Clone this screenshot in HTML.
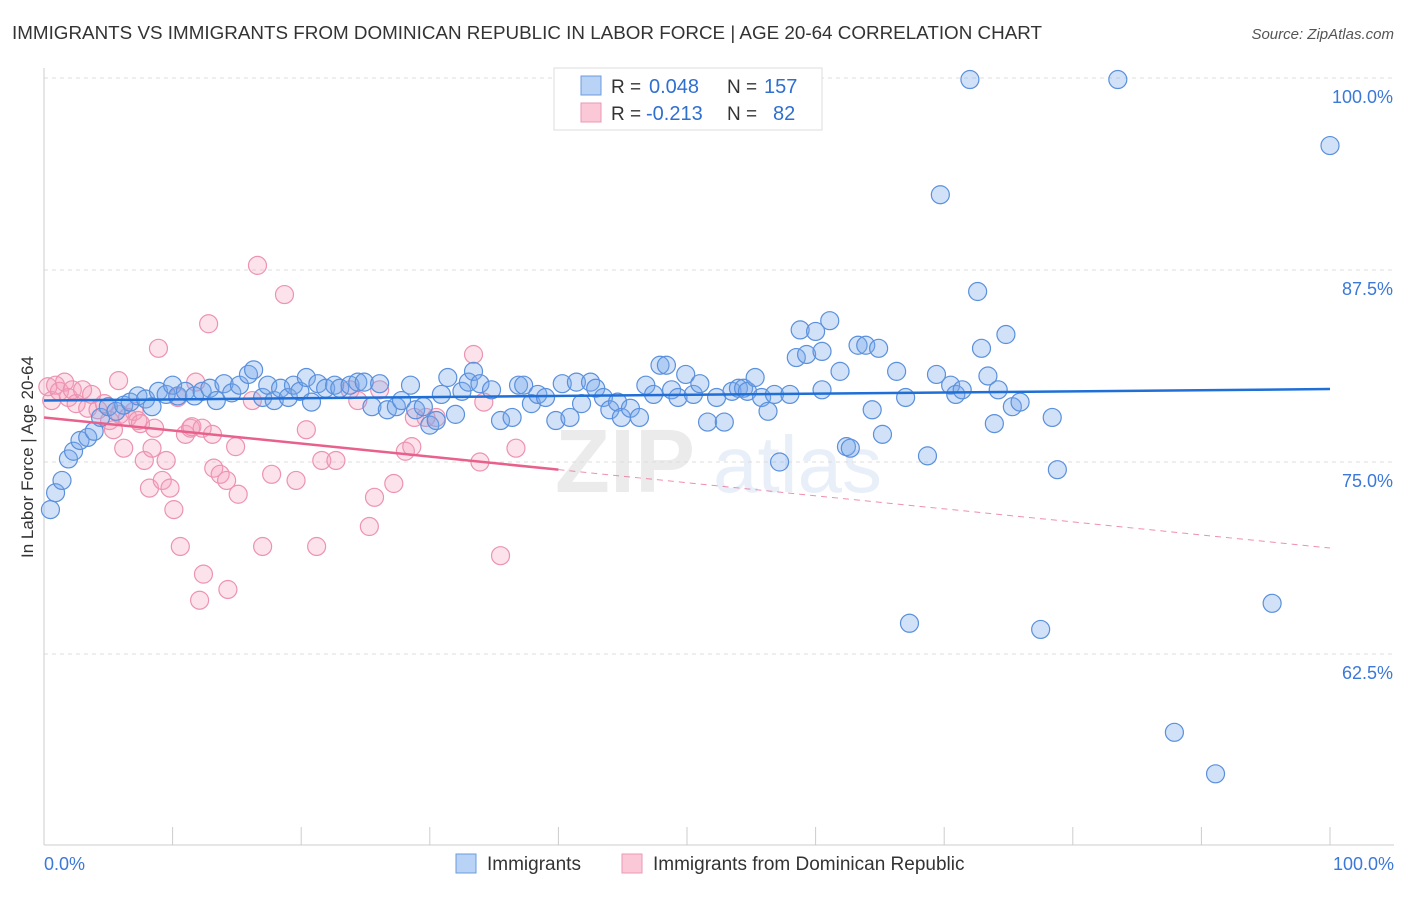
<!DOCTYPE html>
<html><head><meta charset="utf-8"><style>
body{margin:0;background:#fff;font-family:"Liberation Sans",sans-serif;}
svg text{font-family:"Liberation Sans",sans-serif;}
</style></head><body>
<svg id="chart" width="1406" height="892" viewBox="0 0 1406 892">
<text x="12" y="39" font-size="18" fill="#333" textLength="1030" lengthAdjust="spacingAndGlyphs">IMMIGRANTS VS IMMIGRANTS FROM DOMINICAN REPUBLIC IN LABOR FORCE | AGE 20-64 CORRELATION CHART</text>
<text x="1394" y="39" font-size="15" fill="#555" text-anchor="end" font-style="italic">Source: ZipAtlas.com</text>
<text transform="translate(33,457) rotate(-90)" font-size="17" fill="#333" text-anchor="middle">In Labor Force | Age 20-64</text>
<g opacity="0.12">
<text x="555" y="492" font-size="90" font-family="Liberation Serif" fill="#666" font-weight="bold">ZIP</text>
<text x="713" y="492" font-size="80" fill="#4a7fd0">atlas</text>
</g>
<g id="grid"></g>
<g id="axes"></g>
<g id="pink"></g>
<g id="blue"></g>
<g id="trends"></g>
<g>
<rect x="554" y="68" width="268" height="62" fill="#fff" stroke="#ddd"/>
<rect x="581" y="76" width="20" height="19" fill="#b8d3f5" stroke="#6a9be0"/>
<rect x="581" y="103" width="20" height="19" fill="#fbc8d7" stroke="#e99ab3"/>
<text x="611" y="93" font-size="19" fill="#333">R =</text>
<text x="649" y="93" font-size="20" fill="#2f6fd0">0.048</text>
<text x="727" y="93" font-size="19" fill="#333">N =</text>
<text x="764" y="93" font-size="20" fill="#2f6fd0">157</text>
<text x="611" y="120" font-size="19" fill="#333">R =</text>
<text x="646" y="120" font-size="20" fill="#2f6fd0">-0.213</text>
<text x="727" y="120" font-size="19" fill="#333">N =</text>
<text x="773" y="120" font-size="20" fill="#2f6fd0">82</text>
</g>
<g>
<rect x="456" y="854" width="20" height="19" fill="#b8d3f5" stroke="#6a9be0"/>
<text x="487" y="870" font-size="19" fill="#333">Immigrants</text>
<rect x="622" y="854" width="20" height="19" fill="#fbc8d7" stroke="#e99ab3"/>
<text x="653" y="870" font-size="19" fill="#333">Immigrants from Dominican Republic</text>
</g>
</svg>
<script>
const blueX=[0.5,0.9,1.4,1.9,2.3,2.8,3.4,3.9,4.4,5.0,5.6,6.2,6.7,7.3,7.9,8.4,8.9,9.5,10.0,10.4,11.0,11.7,12.3,12.9,13.4,14.0,14.6,15.2,15.9,16.3,17.0,17.4,17.9,18.4,19.0,19.4,19.9,20.4,20.8,21.3,21.9,22.6,23.0,23.8,24.4,24.9,25.5,26.1,26.7,27.4,27.8,28.5,28.9,29.5,30.0,30.5,30.9,31.4,32.0,32.5,33.0,33.4,33.9,34.8,35.5,36.4,36.9,37.3,37.9,38.4,39.0,39.8,40.3,40.9,41.4,41.8,42.5,42.9,43.5,44.0,44.6,44.9,45.6,46.3,46.8,47.4,47.9,48.4,48.8,49.3,49.9,50.5,51.0,51.6,52.3,52.9,53.5,54.0,54.4,54.7,55.3,55.8,56.3,56.8,57.2,58.0,58.5,58.8,59.3,60.0,60.5,60.5,61.1,61.9,62.4,62.7,63.3,63.9,64.4,64.9,65.2,66.3,67.0,67.3,68.7,69.4,69.7,70.5,70.9,71.4,72.0,72.6,72.9,73.4,73.9,74.2,74.8,75.3,75.9,77.5,78.4,78.8,83.5,87.9,91.1,95.5,100];
const blueY=[71.9,73.0,73.8,75.2,75.7,76.4,76.6,77.0,77.9,78.6,78.3,78.7,78.9,79.3,79.1,78.6,79.6,79.4,80.0,79.3,79.6,79.3,79.6,79.8,79.0,80.1,79.5,80.0,80.7,81.0,79.2,80.0,79.0,79.8,79.2,80.0,79.6,80.5,78.9,80.1,79.8,80.0,79.8,80.0,80.2,80.2,78.6,80.1,78.4,78.6,79.0,80.0,78.4,78.6,77.4,77.7,79.4,80.5,78.1,79.6,80.2,80.9,80.1,79.7,77.7,77.9,80.0,80.0,78.8,79.4,79.2,77.7,80.1,77.9,80.2,78.8,80.2,79.8,79.2,78.4,78.9,77.9,78.5,77.9,80.0,79.4,81.3,81.3,79.7,79.2,80.7,79.4,80.1,77.6,79.2,77.6,79.6,79.8,79.8,79.6,80.5,79.2,78.3,79.4,75.0,79.4,81.8,83.6,82.0,83.5,82.2,79.7,84.2,80.9,76.0,75.9,82.6,82.6,78.4,82.4,76.8,80.9,79.2,64.5,75.4,80.7,92.4,80.0,79.4,79.7,99.9,86.1,82.4,80.6,77.5,79.7,83.3,78.6,78.9,64.1,77.9,74.5,99.9,57.4,54.7,65.8,95.6];
const pinkX=[0.3,0.6,0.9,1.2,1.6,1.9,2.2,2.5,3.0,3.4,3.7,4.2,4.7,5.1,5.4,5.8,5.9,6.2,6.5,7.0,7.3,7.5,7.8,8.2,8.4,8.6,8.9,9.2,9.5,9.8,10.1,10.4,10.6,11.0,11.4,11.5,11.8,12.1,12.3,12.4,12.8,13.1,13.2,13.7,14.2,14.3,14.9,15.1,16.2,16.6,17.0,17.7,18.7,19.6,20.4,21.2,21.6,22.7,23.8,24.4,25.3,25.7,26.1,27.2,28.1,28.6,28.8,29.7,30.5,33.4,33.9,34.2,35.5,36.7];
const pinkY=[79.9,79.0,80.0,79.6,80.2,79.2,79.7,78.8,79.7,78.5,79.4,78.4,78.8,77.7,77.1,80.3,78.1,75.9,77.9,78.3,77.7,77.5,75.1,73.3,75.9,77.2,82.4,73.8,75.1,73.3,71.9,79.2,69.5,76.8,77.2,77.3,80.2,66.0,77.2,67.7,84.0,76.8,74.6,74.2,73.8,66.7,76.0,72.9,79.0,87.8,69.5,74.2,85.9,73.8,77.1,69.5,75.1,75.1,79.7,79.0,70.8,72.7,79.7,73.6,75.7,76.0,77.9,77.9,77.9,82.0,75.0,78.9,68.9,75.9];
const blueTrend=[79.0,79.75];
const pinkTrend=[77.9,69.4];
const pinkSolidEnd=40;
const yTicks=[100,87.5,75,62.5];
const yTickLabels=["100.0%","87.5%","75.0%","62.5%"];
const xTickLabels=["0.0%","100.0%"];

const NS="http://www.w3.org/2000/svg";
const X0=44,X1=1330,YTOP=78,PXPER=192/12.5;
function sx(v){return X0+(X1-X0)*v/100;}
function sy(v){return YTOP+(100-v)*PXPER;}
function mk(tag,attrs,parent){const e=document.createElementNS(NS,tag);for(const k in attrs)e.setAttribute(k,attrs[k]);parent.appendChild(e);return e;}

const grid=document.getElementById('grid');
yTicks.forEach((t,i)=>{
  const l=mk('line',{x1:X0,x2:1394,y1:sy(t),y2:sy(t),stroke:'#ddd','stroke-dasharray':'4,4'},grid);
  
  
  const tx=mk('text',{x:1393,y:sy(t)+25,'font-size':18,fill:'#3b78d8','text-anchor':'end'},grid);
  tx.textContent=yTickLabels[i];
  
  
});
const axes=document.getElementById('axes');
const ya=mk('line',{x1:X0,x2:X0,y1:68,y2:845,stroke:'#ccc'},axes);


const xa=mk('line',{x1:X0,x2:1394,y1:845,y2:845,stroke:'#ccc'},axes);


for(let i=1;i<=10;i++){
  const t=mk('line',{x1:sx(i*10),x2:sx(i*10),y1:827,y2:845,stroke:'#ccc'},axes);
  
  
}
[[0,'start',44],[100,'end',1394]].forEach((d,i)=>{
  const tx=mk('text',{x:d[2],y:870,'font-size':18,fill:'#3b78d8','text-anchor':d[1]},axes);
  tx.textContent=xTickLabels[i];
  
  
});

function dots(xs,ys,g,fill,stroke,name){
  xs.forEach((x,i)=>{
    const c=mk('circle',{cx:sx(x),cy:sy(ys[i]),r:9,fill:fill,stroke:stroke,'stroke-width':1.2},g);
    
    
  });
}
dots(pinkX,pinkY,document.getElementById('pink'),'rgba(245,160,190,0.3)','#ec93b0','dominican-point');
dots(blueX,blueY,document.getElementById('blue'),'rgba(120,170,235,0.35)','#5a90dc','immigrants-point');

const tr=document.getElementById('trends');
const bl=mk('line',{x1:sx(0),y1:sy(blueTrend[0]),x2:sx(100),y2:sy(blueTrend[1]),stroke:'#1f6fd6','stroke-width':2.5},tr);


const pm=pinkTrend[0]+(pinkTrend[1]-pinkTrend[0])*pinkSolidEnd/100;
const pl=mk('line',{x1:sx(0),y1:sy(pinkTrend[0]),x2:sx(pinkSolidEnd),y2:sy(pm),stroke:'#e8608c','stroke-width':2.5},tr);


const pd=mk('line',{x1:sx(pinkSolidEnd),y1:sy(pm),x2:sx(100),y2:sy(pinkTrend[1]),stroke:'#e8608c','stroke-width':1,'stroke-dasharray':'6,5',opacity:0.7},tr);


</script>
</body></html>
